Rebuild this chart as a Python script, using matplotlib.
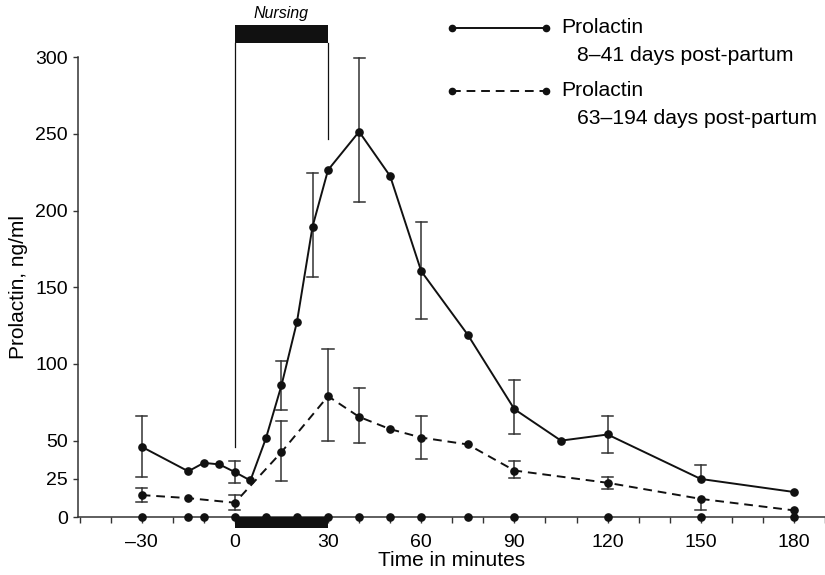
import matplotlib
matplotlib.use("Agg")
import matplotlib.pyplot as plt
from matplotlib.lines import Line2D
from matplotlib.patches import Rectangle
from matplotlib.ticker import MultipleLocator, FixedLocator

plt.rcParams['font.family'] = ['Liberation Sans', 'DejaVu Sans']

# ---- data ----
early_t = [-30, -15, -10, -5, 0, 5, 10, 15, 20, 25, 30, 40, 50, 60, 75, 90, 105, 120, 150, 180]
early_v = [46, 30, 35.5, 34.5, 29.5, 24, 51.5, 86, 127.5, 189.5, 226.5, 251.5, 222.5, 160.5, 119, 70.5, 50, 54, 25, 16.5]
early_err_lo = [20, 0, 0, 0, 7, 0, 0, 16, 0, 33, 0, 46, 0, 31, 0, 16, 0, 12, 0, 0]
early_err_hi = [20, 0, 0, 0, 7, 0, 0, 16, 0, 35, 0, 48, 0, 32, 0, 19, 0, 12, 9, 0]

late_t = [-30, -15, 0, 15, 30, 40, 50, 60, 75, 90, 120, 150, 180]
late_v = [14.5, 12.5, 9.5, 42.5, 79, 65.5, 57.5, 52, 47.5, 30.5, 22.5, 12, 4.5]
late_err_lo = [4.5, 0, 5, 19, 29, 17, 0, 14, 0, 5, 4, 7, 0]
late_err_hi = [4.5, 0, 5, 20, 31, 19, 0, 14, 0, 6, 4, 0, 0]

sample_t = [-30, -15, -10, 0, 10, 20, 30, 40, 50, 60, 75, 90, 120, 150, 180]
sample_v = [0] * len(sample_t)

x_ticks = [-30, 0, 30, 60, 90, 120, 150, 180]
x_ticklabels = ['\u201330', '0', '30', '60', '90', '120', '150', '180']
y_ticks = [0, 25, 50, 100, 150, 200, 250, 300]

nursing_start, nursing_end = 0, 30

legend_labels = [("Prolactin", "8\u201341 days post-partum"),
                 ("Prolactin", "63\u2013194 days post-partum")]

# ---- figure ----
W, H = 825, 575
fig = plt.figure(figsize=(W / 100, H / 100), dpi=100)
left = 77.7 / W
bottom = (H - 517.3) / H
top = (H - 57.3) / H
ax = fig.add_axes([left, bottom, 1 - left, top - bottom])

ax.set_xlim(-50.6, 190)
ax.set_ylim(0, 300)

lw = 1.4
ms = 5.2
ecol = '#333333'
cap_half = 1.8  # minutes


def draw_err(ts, vs, los, his):
    for t, v, lo, hi in zip(ts, vs, los, his):
        if lo == 0 and hi == 0:
            continue
        ax.plot([t, t], [v - lo, v + hi], color=ecol, lw=1.1, zorder=2)
        if lo > 0:
            ax.plot([t - cap_half, t + cap_half], [v - lo, v - lo], color=ecol, lw=1.1, zorder=2)
        if hi > 0:
            ax.plot([t - cap_half, t + cap_half], [v + hi, v + hi], color=ecol, lw=1.1, zorder=2)


draw_err(early_t, early_v, early_err_lo, early_err_hi)
draw_err(late_t, late_v, late_err_lo, late_err_hi)
ax.plot(early_t, early_v, color='#111111', lw=lw, marker='o', ms=ms, zorder=3)
ax.plot(late_t, late_v, color='#111111', lw=lw, ls=(0, (4.5, 3)), marker='o', ms=ms, zorder=3)
ax.plot(sample_t, sample_v, ls='none', marker='o', ms=ms, color='#111111',
        clip_on=False, zorder=4)

# nursing bars and guide lines
ax.add_patch(Rectangle((nursing_start, 0), nursing_end - nursing_start, -7.2,
                       facecolor='#111111', edgecolor='none', clip_on=False, zorder=3))
ax.add_patch(Rectangle((nursing_start, 309.5), nursing_end - nursing_start, 11.7,
                       facecolor='#111111', edgecolor='none', clip_on=False, zorder=3))
ax.plot([nursing_start, nursing_start], [46, 309.5], color='#111111', lw=0.9, clip_on=False)
ax.plot([nursing_end, nursing_end], [247, 309.5], color='#111111', lw=0.9, clip_on=False)
ax.text((nursing_start + nursing_end) / 2, 328.5, 'Nursing', style='italic', fontsize=11.5,
        ha='center', va='center', clip_on=False)

# axes styling
for s in ['top', 'right']:
    ax.spines[s].set_visible(False)
for s in ['left', 'bottom']:
    ax.spines[s].set_linewidth(1.1)
    ax.spines[s].set_color('#333333')

ax.xaxis.set_major_locator(FixedLocator(x_ticks))
ax.set_xticklabels(x_ticklabels)
ax.xaxis.set_minor_locator(MultipleLocator(10))
ax.yaxis.set_major_locator(FixedLocator(y_ticks))
ax.tick_params(axis='x', which='both', direction='out', length=4.3, width=1.0,
               labelsize=14, pad=8, color='#333333')
ax.tick_params(axis='y', which='major', direction='out', length=3.6, width=1.0,
               labelsize=14, pad=3.4, color='#333333')
ax.set_xlabel('Time in minutes', fontsize=15, labelpad=0)
ax.set_ylabel('Prolactin, ng/ml', fontsize=15, labelpad=5)

# manual legend (figure pixel coords)
def fx(px):
    return px / W


def fy(py):
    return (H - py) / H


for i, (ls, (l1, l2)) in enumerate(zip(['-', (0, (4.5, 3))], legend_labels)):
    yline = [27.7, 91][i]
    fig.add_artist(Line2D([fx(451.7), fx(545.7)], [fy(yline), fy(yline)], color='#111111',
                          lw=lw, ls=ls, transform=fig.transFigure))
    fig.add_artist(Line2D([fx(451.7), fx(545.7)], [fy(yline), fy(yline)], color='#111111',
                          lw=0, marker='o', ms=4.5, transform=fig.transFigure))
    fig.text(fx(561), fy(yline), l1, fontsize=15.2, ha='left', va='center')
    fig.text(fx(577), fy(yline + 27.5), l2, fontsize=15.2, ha='left', va='center')

fig.savefig('out.png', dpi=100)
